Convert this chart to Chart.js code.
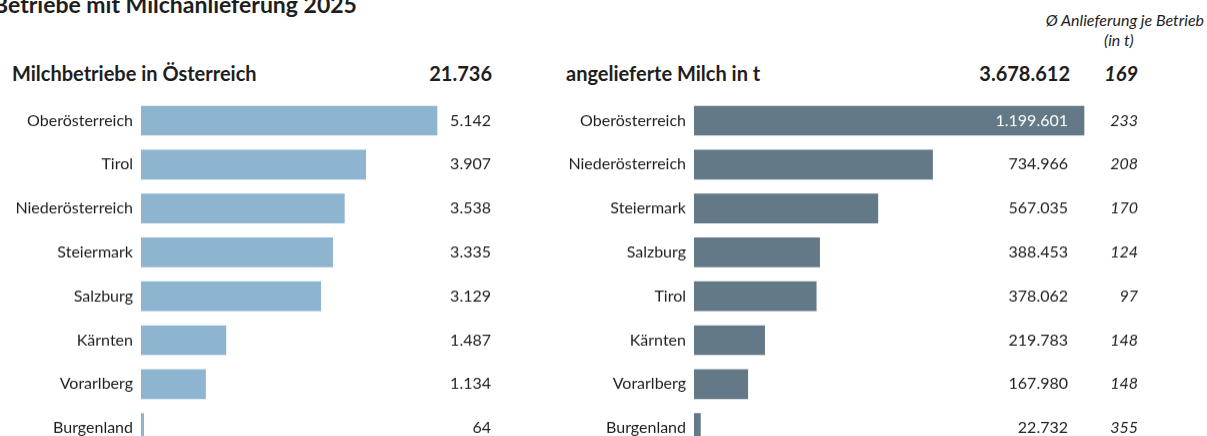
<!DOCTYPE html>
<html>
<head>
<meta charset="utf-8">
<script src="https://cdn.jsdelivr.net/npm/chart.js@4/dist/chart.umd.min.js"></script>
<style>
  html, body { margin: 0; padding: 0; width: 1207px; height: 436px; overflow: hidden; background: #fff; }
  body { position: relative; font-family: Lato, sans-serif; color: #1e1e1e; }
  .t { position: absolute; white-space: nowrap; line-height: 1; }
  .box { position: absolute; }
</style>
</head>
<body>
<script>
// data
var regionsLeft = ["Oberösterreich", "Tirol", "Niederösterreich", "Steiermark", "Salzburg", "Kärnten", "Vorarlberg", "Burgenland"];
var betriebe = [5142, 3907, 3538, 3335, 3129, 1487, 1134, 64];
var totalBetriebe = 21736;

var regionsRight = ["Oberösterreich", "Niederösterreich", "Steiermark", "Salzburg", "Tirol", "Kärnten", "Vorarlberg", "Burgenland"];
var milch = [1199601, 734966, 567035, 388453, 378062, 219783, 167980, 22732];
var schnitt = [233, 208, 170, 124, 97, 148, 148, 355];
var totalMilch = 3678612;
var totalSchnitt = 169;
</script>

<div class="t" style="left:-7px; top:-7px; font-size:23px; font-weight:bold;">Betriebe mit Milchanlieferung 2025</div>
<div class="t" style="right:3px; top:12px; font-size:16px; font-style:italic;">Ø Anlieferung je Betrieb</div>
<div class="t" style="left:1104px; top:32px; font-size:16px; font-style:italic;">(in t)</div>

<div class="t" id="h1" style="left:12px; top:63px; font-size:20px; font-weight:bold;">Milchbetriebe in Österreich</div>
<div class="t" id="h1v" style="right:715px; top:63px; font-size:20px; font-weight:bold;"></div>
<div class="t" id="h2" style="left:566px; top:63px; font-size:20px; font-weight:bold;">angelieferte Milch in t</div>
<div class="t" id="h2v" style="right:137px; top:63px; font-size:20px; font-weight:bold;"></div>
<div class="t" id="h2a" style="right:69px; top:63px; font-size:20px; font-weight:bold; font-style:italic;"></div>

<div class="box" id="leftBox" style="left:0px; top:99px; width:500px; height:351px;"><canvas id="leftChart"></canvas></div>
<div class="box" id="rightBox" style="left:560px; top:99px; width:647px; height:351px;"><canvas id="rightChart"></canvas></div>

<script>
function fmt(n) {
  return String(n).replace(/\B(?=(\d{3})+(?!\d))/g, ".");
}

document.getElementById("h1v").textContent = fmt(totalBetriebe);
document.getElementById("h2v").textContent = fmt(totalMilch);
document.getElementById("h2a").textContent = totalSchnitt;

Chart.defaults.font.family = "Lato, sans-serif";
Chart.defaults.color = "#1e1e1e";

// draws the number columns next to the bars
var valueColumns = {
  id: "valueColumns",
  afterDatasetsDraw: function(chart, args, opts) {
    var ctx = chart.ctx;
    var ys = chart.scales.y;
    var meta = chart.getDatasetMeta(0);
    var vals = chart.data.datasets[0].data;
    ctx.save();
    ctx.textAlign = "right";
    ctx.textBaseline = "middle";
    for (var i = 0; i < vals.length; i++) {
      var y = ys.getPixelForValue(i);
      var barEnd = meta.data[i].x;
      ctx.font = "16px Lato, sans-serif";
      ctx.fillStyle = (barEnd > opts.valueX + 8) ? "#ffffff" : "#1e1e1e";
      ctx.fillText(fmt(vals[i]), opts.valueX, y);
      if (opts.extra) {
        ctx.font = "italic 16px Lato, sans-serif";
        ctx.fillStyle = "#1e1e1e";
        ctx.fillText(opts.extra[i], opts.extraX, y);
      }
    }
    ctx.restore();
  }
};

function makeChart(id, labels, values, color, axisWidth, maxVal, padRight, pluginOpts) {
  return new Chart(document.getElementById(id), {
    type: "bar",
    data: {
      labels: labels,
      datasets: [{
        data: values,
        backgroundColor: color,
        borderColor: "rgba(255,255,255,0.6)",
        borderWidth: 1,
        barThickness: 31
      }]
    },
    options: {
      indexAxis: "y",
      responsive: true,
      maintainAspectRatio: false,
      animation: false,
      layout: { padding: { left: 0, right: padRight, top: 0, bottom: 0 } },
      plugins: {
        legend: { display: false },
        tooltip: { enabled: false },
        valueColumns: pluginOpts
      },
      scales: {
        x: { display: false, min: 0, max: maxVal },
        y: {
          grid: { display: false, drawTicks: false },
          border: { display: false },
          ticks: { padding: 8, font: { size: 16 }, color: "#1e1e1e" },
          afterFit: function(scale) { scale.width = axisWidth; }
        }
      }
    },
    plugins: [valueColumns]
  });
}

// move the box so the plot rows sit where the reference has them (top 99, row step 43.8)
function fitRows(chart, boxId) {
  var box = document.getElementById(boxId);
  var a = chart.chartArea;
  var h = box.offsetHeight;
  var padTop = a.top, padBottom = h - a.bottom;
  var want = 43.8 * chart.data.labels.length;
  box.style.top = (99 - padTop) + "px";
  box.style.height = (want + padTop + padBottom) + "px";
  chart.resize();
}

// left: 5142 -> 297px
var leftChart = makeChart("leftChart", regionsLeft, betriebe, "#8eb5cf", 141, 6000, 500 - 141 - 297 * 6000 / 5142,
  { valueX: 491 });

// right: 1199601 -> 391px
var rightChart = makeChart("rightChart", regionsRight, milch, "#637988", 134, 1400000, 647 - 134 - 391 * 1400000 / 1199601,
  { valueX: 1068 - 560, extra: schnitt, extraX: 1138 - 560 });

fitRows(leftChart, "leftBox");
fitRows(rightChart, "rightBox");
</script>
</body>
</html>
